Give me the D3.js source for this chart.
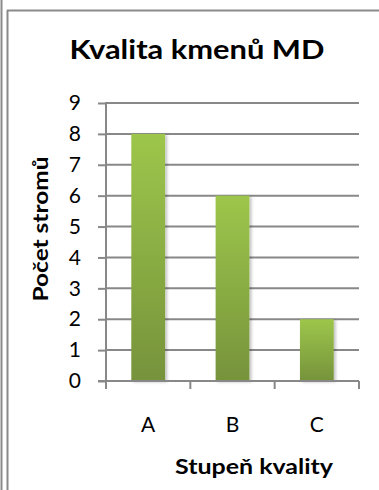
<!DOCTYPE html>
<html>
<head>
<meta charset="utf-8">
<script src="https://cdn.jsdelivr.net/npm/d3@7/dist/d3.min.js"></script>
<style>
  html, body { margin: 0; padding: 0; background: #fff; }
  svg { display: block; font-family: Lato, "Open Sans", sans-serif; }
</style>
</head>
<body>
<svg id="chart" width="379" height="490"></svg>
<script>
// Data
const categories = ["A", "B", "C"];
const counts = [8, 6, 2];
const yTicks = [0, 1, 2, 3, 4, 5, 6, 7, 8, 9];
const titleText = "Kvalita kmenů MD";
const yTitle = "Počet stromů";
const xTitle = "Stupeň kvality";

const svg = d3.select("#chart");

// outer frame lines
svg.append("line").attr("x1", 1.5).attr("x2", 1.5).attr("y1", 0).attr("y2", 490)
  .attr("stroke", "#8a8a8a").attr("stroke-width", 2);
svg.append("line").attr("x1", 7.5).attr("x2", 7.5).attr("y1", 10).attr("y2", 490)
  .attr("stroke", "#8a8a8a").attr("stroke-width", 2);
svg.append("line").attr("x1", 7).attr("x2", 379).attr("y1", 10.5).attr("y2", 10.5)
  .attr("stroke", "#8a8a8a").attr("stroke-width", 2);

const plot = { left: 106, right: 359, top: 103, bottom: 381 };

const x = d3.scaleBand().domain(categories)
  .range([plot.left, plot.right]).paddingInner(0.6).paddingOuter(0.3);
const xOuter = d3.scaleBand().domain(categories).range([plot.left, plot.right]);
const y = d3.scaleLinear().domain([0, 9]).range([plot.bottom, plot.top]);

const defs = svg.append("defs");
const grad = defs.append("linearGradient").attr("id", "barGrad")
  .attr("x1", 0).attr("y1", 0).attr("x2", 0).attr("y2", 1);
grad.append("stop").attr("offset", "0%").attr("stop-color", "#9dc64b");
grad.append("stop").attr("offset", "100%").attr("stop-color", "#76933b");

const shadow = defs.append("filter").attr("id", "shadow")
  .attr("x", "-20%").attr("y", "-10%").attr("width", "150%").attr("height", "130%");
shadow.append("feDropShadow").attr("dx", 2).attr("dy", 1).attr("stdDeviation", 1.5)
  .attr("flood-color", "#000").attr("flood-opacity", 0.25);

// gridlines
svg.append("g").selectAll("line").data(yTicks.filter(d => d > 0)).join("line")
  .attr("x1", plot.left).attr("x2", plot.right)
  .attr("y1", d => y(d)).attr("y2", d => y(d))
  .attr("stroke", "#888").attr("stroke-width", 2);

// bars
svg.append("g").selectAll("rect").data(categories).join("rect")
  .attr("x", d => x(d))
  .attr("width", x.bandwidth())
  .attr("y", (d, i) => y(counts[i]))
  .attr("height", (d, i) => y(0) - y(counts[i]))
  .attr("fill", "url(#barGrad)")
  .attr("filter", "url(#shadow)");

// y axis
const yAxis = d3.axisLeft(y).tickValues(yTicks).tickSize(8).tickPadding(17);
const gy = svg.append("g").attr("transform", `translate(${plot.left},0)`).call(yAxis);
gy.select(".domain").attr("stroke", "#888").attr("stroke-width", 2).attr("d", `M0,${plot.top - 1}V${plot.bottom}`);
gy.selectAll(".tick line").attr("stroke", "#888").attr("stroke-width", 2);
gy.selectAll(".tick text").attr("font-size", 21).attr("fill", "#000")
  .attr("font-family", "Lato, 'Open Sans', sans-serif");

// x axis
const gx = svg.append("g").attr("transform", `translate(0,${plot.bottom})`);
gx.append("line").attr("x1", plot.left - 8).attr("x2", plot.right)
  .attr("stroke", "#888").attr("stroke-width", 2);
const bounds = categories.map(c => xOuter(c)).concat([plot.right]);
gx.selectAll("line.tk").data(bounds).join("line").attr("class", "tk")
  .attr("x1", d => d).attr("x2", d => d).attr("y1", 0).attr("y2", 8)
  .attr("stroke", "#888").attr("stroke-width", 2);
gx.selectAll("text").data(categories).join("text")
  .attr("x", d => xOuter(d) + xOuter.bandwidth() / 2)
  .attr("y", 51).attr("text-anchor", "middle")
  .attr("font-size", 21).attr("fill", "#000").text(d => d);

// titles
svg.append("text").attr("x", 197).attr("y", 59).attr("text-anchor", "middle")
  .attr("font-size", 27).attr("font-weight", "bold").attr("fill", "#000")
  .attr("textLength", 255).attr("lengthAdjust", "spacingAndGlyphs").text(titleText);
svg.append("text").attr("transform", "translate(48,229) rotate(-90)")
  .attr("text-anchor", "middle").attr("font-size", 20).attr("font-weight", "bold")
  .attr("fill", "#000")
  .attr("textLength", 145).attr("lengthAdjust", "spacingAndGlyphs").text(yTitle);
svg.append("text").attr("x", 254).attr("y", 474).attr("text-anchor", "middle")
  .attr("font-size", 20).attr("font-weight", "bold").attr("fill", "#000")
  .attr("textLength", 158).attr("lengthAdjust", "spacingAndGlyphs").text(xTitle);
</script>
</body>
</html>
